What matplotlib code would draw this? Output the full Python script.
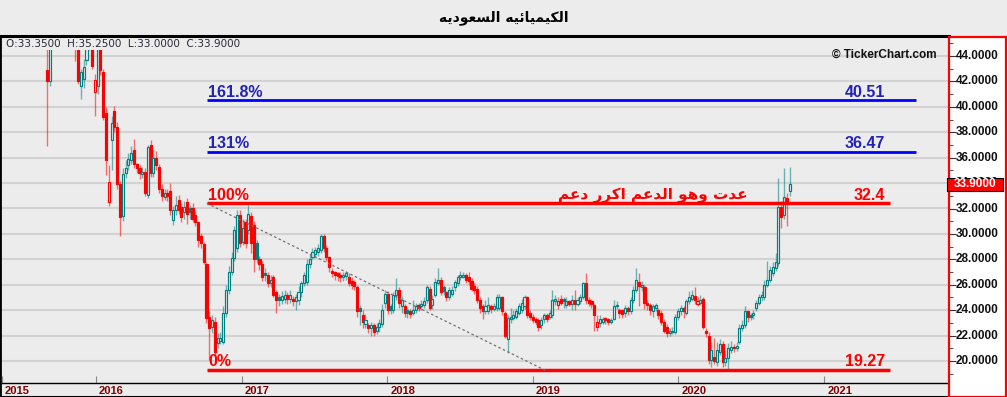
import numpy as np
import pandas as pd
import matplotlib
matplotlib.use('Agg')
import matplotlib.pyplot as plt
import matplotlib.dates as mdates
from matplotlib.patches import Rectangle
from matplotlib.transforms import ScaledTranslation

# weekly candles (last one = 2020-10-06)
opens = [
    42.9, 42.0, 46.5, 47.5, 48.2, 47.0, 47.8, 46.8, 47.2, 46.5,
    46.2, 44.6, 41.6, 42.2, 43.7, 44.8, 45.6, 41.2, 41.6, 44.8,
    42.7, 39.5, 32.5, 37.4, 39.7, 38.4, 33.9, 31.4, 34.8, 35.4,
    35.8, 36.6, 35.5, 35.2, 34.7, 34.9, 33.1, 37.0, 34.8, 36.0,
    35.3, 33.5, 32.9, 33.2, 33.4, 31.1, 31.9, 32.7, 32.1, 31.7,
    32.5, 32.0, 32.0, 31.5, 30.9, 29.8, 29.2, 27.6, 23.5, 22.7,
    23.1, 21.4, 21.6, 21.5, 23.8, 25.6, 27.0, 28.1, 28.9, 31.5,
    29.4, 30.9, 30.3, 31.4, 30.7, 29.3, 28.0, 27.6, 26.9, 26.8,
    26.1, 26.6, 25.4, 25.0, 24.8, 24.9, 25.2, 24.9, 24.9, 24.7,
    24.8, 25.4, 26.1, 26.2, 27.6, 28.2, 28.4, 28.6, 28.7, 29.8,
    28.9, 28.2, 27.1, 27.0, 26.9, 26.8, 26.6, 26.7, 26.6, 26.3,
    26.2, 25.8, 24.2, 23.6, 22.9, 22.8, 22.6, 22.8, 22.4, 22.7,
    22.9, 24.6, 25.3, 24.3, 24.0, 25.2, 25.6, 24.3, 24.3, 24.0,
    23.9, 23.8, 24.0, 24.4, 24.3, 24.4, 24.8, 25.7, 24.4, 25.2,
    26.1, 26.4, 25.8, 25.4, 25.0, 25.3, 25.8, 26.1, 26.6, 26.6,
    26.8, 26.6, 26.3, 25.9, 25.7, 24.8, 24.3, 23.9, 23.9, 24.3,
    24.1, 24.2, 24.2, 25.0, 23.8, 21.7, 23.3, 23.4, 23.5, 23.8,
    24.0, 24.3, 25.0, 23.8, 23.5, 23.3, 23.2, 22.8, 23.3, 23.6,
    23.5, 23.6, 24.7, 24.4, 24.9, 24.9, 24.4, 24.7, 24.5, 24.8,
    24.5, 24.7, 25.0, 26.1, 24.8, 24.7, 24.4, 22.7, 23.0, 23.1,
    23.4, 23.3, 23.1, 23.3, 24.3, 24.0, 24.0, 23.8, 24.2, 23.9,
    24.8, 25.6, 26.2, 25.8, 25.8, 24.6, 24.4, 23.9, 24.2, 24.0,
    23.8, 23.1, 22.7, 22.2, 22.3, 22.3, 23.5, 23.9, 24.2, 23.8,
    24.7, 24.9, 25.1, 24.5, 24.6, 24.9, 22.4, 22.0, 20.1, 20.3,
    19.9, 20.7, 21.3, 19.9, 20.2, 20.9, 21.1, 21.0, 21.5, 22.6,
    22.8, 23.9, 23.6, 23.6, 24.2, 24.6, 25.0, 25.0, 26.0, 26.4,
    26.9, 27.3, 27.7, 32.1, 31.5, 32.8, 33.35,
]
highs = [
    44.6, 47.0, 48.5, 49.0, 48.8, 48.5, 48.2, 47.8, 47.6, 47.5,
    46.5, 44.8, 43.0, 43.8, 45.5, 46.0, 45.8, 42.6, 45.5, 45.5,
    43.0, 40.0, 35.4, 39.3, 40.1, 38.8, 34.2, 35.2, 35.8, 36.4,
    36.9, 37.5, 35.6, 35.4, 35.3, 35.2, 37.0, 37.4, 36.6, 36.5,
    35.5, 33.9, 33.5, 33.5, 34.0, 32.2, 33.0, 33.1, 32.4, 32.6,
    32.8, 32.3, 32.4, 31.8, 31.0, 30.1, 29.4, 27.8, 23.9, 23.6,
    23.5, 22.2, 22.3, 24.3, 26.0, 27.5, 28.6, 30.6, 31.9, 31.9,
    31.2, 31.2, 32.3, 31.7, 31.0, 29.5, 28.3, 27.9, 27.3, 27.0,
    26.8, 26.8, 25.6, 25.3, 25.5, 25.6, 25.4, 25.6, 25.1, 25.3,
    25.9, 26.3, 27.0, 28.0, 28.4, 28.9, 29.0, 29.2, 30.0, 30.0,
    29.1, 28.3, 27.3, 27.1, 27.0, 27.0, 27.0, 27.1, 26.9, 26.6,
    26.4, 26.0, 24.4, 24.0, 23.7, 23.0, 23.1, 23.0, 23.0, 23.3,
    24.5, 25.6, 25.5, 24.5, 25.4, 26.5, 25.8, 25.1, 24.5, 24.2,
    24.1, 24.8, 24.6, 24.6, 24.8, 25.0, 26.0, 25.9, 25.2, 26.5,
    27.3, 26.6, 26.0, 25.5, 25.8, 25.9, 26.4, 26.8, 27.1, 27.0,
    26.9, 27.0, 26.5, 26.1, 25.9, 25.0, 24.5, 24.8, 25.0, 24.5,
    24.6, 25.3, 25.3, 25.1, 23.9, 23.6, 24.2, 24.0, 24.2, 24.6,
    24.9, 25.2, 25.1, 24.0, 23.7, 23.5, 23.4, 23.5, 23.8, 23.8,
    24.0, 25.6, 25.2, 25.0, 25.2, 25.0, 25.0, 24.8, 25.2, 25.6,
    25.0, 25.3, 26.2, 26.9, 25.0, 24.9, 24.5, 23.6, 23.6, 23.5,
    23.5, 23.4, 23.4, 24.8, 24.7, 24.2, 24.1, 24.4, 24.3, 25.0,
    25.9, 27.3, 26.9, 26.3, 26.0, 24.8, 24.6, 24.5, 24.6, 24.2,
    24.0, 23.3, 22.9, 22.6, 22.7, 23.7, 24.2, 24.4, 24.3, 24.9,
    25.5, 25.6, 25.8, 25.0, 25.2, 25.0, 22.6, 22.3, 21.5, 21.8,
    21.5, 21.7, 21.6, 20.9, 21.4, 21.6, 21.3, 21.5, 22.9, 23.2,
    24.3, 24.0, 23.8, 24.0, 24.8, 25.3, 25.5, 26.4, 27.9, 27.5,
    27.8, 28.5, 34.4, 32.6, 35.2, 33.2, 35.25,
]
lows = [
    36.9, 41.6, 46.0, 46.8, 46.2, 46.3, 46.0, 46.0, 45.8, 45.6,
    43.6, 41.8, 40.6, 41.5, 43.3, 44.5, 43.0, 39.3, 41.0, 42.5,
    39.0, 34.6, 32.2, 35.0, 38.0, 33.5, 29.8, 31.0, 34.4, 35.0,
    35.5, 35.2, 34.8, 34.3, 34.4, 33.0, 32.8, 34.5, 34.5, 35.0,
    33.2, 32.6, 32.7, 32.6, 31.5, 30.7, 31.5, 31.6, 30.9, 31.2,
    30.8, 31.2, 30.9, 30.6, 29.0, 28.9, 27.6, 23.0, 20.1, 22.2,
    20.4, 21.0, 21.3, 21.3, 23.5, 25.3, 26.8, 27.9, 28.6, 29.0,
    29.1, 28.9, 30.0, 28.5, 27.0, 27.7, 27.2, 26.3, 26.3, 25.8,
    25.8, 25.0, 23.8, 24.3, 24.5, 24.6, 24.5, 24.6, 24.3, 24.0,
    24.4, 25.0, 25.9, 26.0, 27.3, 28.0, 28.2, 28.3, 28.5, 28.6,
    27.9, 27.0, 26.6, 26.4, 26.3, 26.2, 26.3, 26.4, 25.9, 25.7,
    25.6, 23.5, 22.8, 22.6, 22.6, 22.2, 22.0, 22.0, 22.1, 22.3,
    22.7, 24.2, 23.7, 23.7, 23.8, 24.8, 24.2, 23.8, 23.5, 23.4,
    23.4, 23.6, 23.8, 23.9, 24.0, 24.2, 24.6, 24.0, 24.1, 25.0,
    26.0, 25.2, 25.2, 24.7, 24.8, 25.1, 25.5, 25.9, 26.4, 26.5,
    26.1, 26.0, 25.5, 25.3, 24.6, 23.8, 23.3, 23.7, 23.7, 23.8,
    23.9, 23.9, 24.0, 23.6, 21.8, 20.6, 23.0, 23.2, 23.3, 23.6,
    23.8, 24.1, 23.4, 23.2, 23.0, 22.8, 22.4, 22.5, 23.0, 23.1,
    23.3, 23.4, 24.4, 24.1, 24.4, 24.2, 24.2, 24.3, 24.0, 24.0,
    24.3, 24.5, 24.9, 24.5, 24.3, 24.2, 22.4, 22.4, 22.7, 22.9,
    22.9, 22.8, 22.9, 23.2, 24.1, 23.4, 23.4, 23.5, 23.6, 23.7,
    24.6, 25.4, 24.3, 25.5, 24.1, 24.0, 23.6, 23.5, 23.9, 23.3,
    22.8, 22.2, 21.9, 22.0, 22.1, 22.1, 23.2, 23.6, 23.4, 23.6,
    24.5, 24.7, 24.5, 24.3, 24.4, 22.5, 21.9, 19.8, 19.5, 19.8,
    19.6, 20.5, 19.5, 19.6, 19.4, 20.6, 20.7, 20.8, 21.3, 22.4,
    22.6, 23.1, 23.2, 23.3, 23.9, 24.4, 24.7, 24.8, 25.8, 26.2,
    26.7, 27.1, 27.5, 30.5, 31.2, 30.6, 33.0,
]
closes = [
    42.0, 46.5, 47.5, 48.2, 47.0, 47.8, 46.8, 47.2, 46.5, 46.2,
    44.6, 42.0, 42.7, 43.1, 44.8, 45.6, 43.2, 42.1, 44.8, 42.9,
    39.2, 35.8, 34.1, 38.7, 38.4, 33.9, 31.3, 34.7, 35.2, 35.9,
    36.4, 35.5, 35.2, 34.8, 34.9, 33.2, 36.8, 34.8, 36.0, 35.4,
    33.5, 33.0, 33.2, 33.0, 31.9, 31.9, 32.3, 31.9, 31.3, 32.1,
    31.6, 31.7, 31.2, 30.9, 29.5, 29.3, 27.8, 23.4, 22.6, 23.2,
    20.7, 21.8, 21.8, 23.8, 25.6, 27.0, 28.1, 30.3, 31.5, 29.3,
    30.5, 29.3, 31.6, 29.3, 28.0, 28.0, 27.6, 26.6, 26.8, 26.1,
    26.4, 25.2, 24.8, 24.8, 25.1, 25.2, 24.9, 25.2, 24.7, 25.0,
    25.4, 26.1, 26.8, 27.6, 28.0, 28.6, 28.7, 28.9, 29.8, 28.9,
    28.2, 27.4, 26.9, 26.8, 26.7, 26.6, 26.8, 26.9, 26.1, 26.0,
    25.9, 23.9, 23.9, 23.1, 23.2, 22.6, 22.8, 22.3, 22.7, 23.0,
    24.0, 25.3, 24.0, 24.0, 25.2, 25.6, 24.6, 24.8, 23.8, 23.8,
    23.7, 24.0, 24.3, 24.2, 24.5, 24.7, 25.8, 24.2, 24.9, 26.2,
    26.4, 25.4, 25.5, 25.0, 25.6, 25.6, 26.2, 26.6, 26.8, 26.8,
    26.4, 26.3, 25.7, 25.6, 24.8, 24.2, 23.9, 24.3, 24.4, 24.1,
    24.3, 25.0, 25.0, 23.9, 22.0, 23.4, 23.5, 23.6, 23.9, 24.3,
    24.6, 25.0, 23.6, 23.5, 23.2, 23.1, 22.7, 23.2, 23.6, 23.3,
    23.8, 24.8, 24.9, 24.7, 24.6, 24.7, 24.7, 24.5, 24.8, 24.5,
    24.8, 25.0, 26.1, 24.8, 24.6, 24.5, 23.6, 23.1, 23.3, 23.3,
    23.2, 23.1, 23.2, 24.3, 24.4, 23.8, 23.7, 24.2, 23.9, 24.8,
    25.6, 26.4, 25.9, 26.0, 24.6, 24.4, 24.0, 24.3, 24.4, 23.6,
    23.1, 22.4, 22.2, 22.4, 22.4, 23.5, 23.9, 24.2, 23.9, 24.7,
    25.0, 25.2, 24.8, 24.7, 24.8, 22.7, 22.2, 20.1, 20.9, 20.0,
    20.9, 21.3, 19.9, 20.2, 21.0, 21.1, 21.0, 21.2, 22.6, 22.8,
    23.9, 23.5, 23.5, 23.8, 24.6, 25.0, 25.2, 26.0, 26.4, 27.2,
    27.4, 27.8, 32.1, 31.3, 32.9, 32.4, 33.9,
]

fib_names = ['161.8%', '131%', '100%', '0%']
fib_levels = [40.51, 36.47, 32.4, 19.27]
fib_values = ['40.51', '36.47', '32.4', '19.27']
fib_colors = ['#0000ff', '#0000ff', '#ff0000', '#ff0000']
fib_text_colors = ['#2323b8', '#2323b8', '#ff0000', '#ff0000']
fib_ends = ['2021-08-18', '2021-08-18', '2021-06-15', '2021-06-15']

years = ['2015', '2016', '2017', '2018', '2019', '2020', '2021']
price_ticks = list(range(20, 45, 2))
last_price = 33.9

title = 'الكيميائيه السعوديه'
note = 'عدت وهو الدعم اكرر دعم'

BG = '#ececec'
TEAL = '#008080'
RED = '#ff0000'

# minimal arabic shaping (isolated, final, initial, medial) + RTL
FORMS = {
    '\u0627': ('\uFE8D', '\uFE8E', None, None),
    '\u0644': ('\uFEDD', '\uFEDE', '\uFEDF', '\uFEE0'),
    '\u0643': ('\uFED9', '\uFEDA', '\uFEDB', '\uFEDC'),
    '\u064A': ('\uFEF1', '\uFEF2', '\uFEF3', '\uFEF4'),
    '\u0645': ('\uFEE1', '\uFEE2', '\uFEE3', '\uFEE4'),
    '\u0626': ('\uFE89', '\uFE8A', '\uFE8B', '\uFE8C'),
    '\u0647': ('\uFEE9', '\uFEEA', '\uFEEB', '\uFEEC'),
    '\u0633': ('\uFEB1', '\uFEB2', '\uFEB3', '\uFEB4'),
    '\u0639': ('\uFEC9', '\uFECA', '\uFECB', '\uFECC'),
    '\u0648': ('\uFEED', '\uFEEE', None, None),
    '\u062F': ('\uFEA9', '\uFEAA', None, None),
    '\u062A': ('\uFE95', '\uFE96', '\uFE97', '\uFE98'),
    '\u0631': ('\uFEAD', '\uFEAE', None, None),
}


def shape(text):
    out = []
    for i, ch in enumerate(text):
        f = FORMS.get(ch)
        if f is None:
            out.append(ch)
            continue
        prev = text[i - 1] if i > 0 else ''
        nxt = text[i + 1] if i + 1 < len(text) else ''
        jp = prev in FORMS and FORMS[prev][2] is not None
        jn = f[2] is not None and nxt in FORMS
        if jp and jn:
            out.append(f[3])
        elif jp:
            out.append(f[1])
        elif jn:
            out.append(f[2])
        else:
            out.append(f[0])
    return ''.join(reversed(out))


def dnum(s):
    return mdates.date2num(pd.Timestamp(s))


o = np.array(opens)
h = np.array(highs)
l = np.array(lows)
c = np.array(closes)
dates = pd.date_range(end='2020-10-06', periods=len(c), freq='7D')
xd = mdates.date2num(dates)

W, H = 1007, 397
fig = plt.figure(figsize=(W / 100, H / 100), dpi=100, facecolor=BG)

# frame behind chart (borders)
frame = fig.add_axes([0, 0, 949 / W, 361 / H])
frame.set_facecolor(BG)
frame.set_xticks([])
frame.set_yticks([])
frame.spines['right'].set_visible(False)
frame.spines['top'].set_linewidth(2.2)
frame.spines['left'].set_linewidth(2.0)
frame.spines['bottom'].set_linewidth(1.5)

ax = fig.add_axes([2 / W, 14 / H, 947 / W, 333 / H])
ax.patch.set_alpha(0)
x0, x1 = dnum('2015-05-10'), dnum('2021-11-10')
ax.set_xlim(x0, x1)
ax.set_ylim(18.27, 44.47)
ax.set_yticks(price_ticks)
ax.tick_params(axis='y', left=False, labelleft=False)
ax.yaxis.grid(True, color='#d2d2d2', lw=1.5)
ax.set_axisbelow(True)
for s in ['top', 'left', 'right']:
    ax.spines[s].set_visible(False)
ax.spines['bottom'].set_linewidth(1.0)

# candles
prev = np.r_[o[0], c[:-1]]
col = np.where(c >= prev, TEAL, RED)
ax.vlines(xd, l, h, colors=col, lw=1.0, alpha=0.55, zorder=2)
face = np.where(c >= o, BG, col)
ax.bar(xd, np.maximum(np.abs(c - o), 0.1), width=5.2, bottom=np.minimum(o, c),
       color=face, edgecolor=col, linewidth=0.85, zorder=3)

# fibonacci levels
fs = dnum('2016-10-05')
for name, lev, val, lc, tc, end in zip(fib_names, fib_levels, fib_values,
                                       fib_colors, fib_text_colors, fib_ends):
    lw = 2.5 if lc == RED else 2.0
    ax.hlines(lev, fs, dnum(end), colors=lc, lw=lw, zorder=4)
    ax.text(dnum('2016-10-09'), lev + 0.3, name, color=tc, fontsize=11.5,
            family='Liberation Sans', weight='bold', va='baseline', zorder=5)
    ax.text(dnum('2021-06-03'), lev + 0.3, val, color=tc, fontsize=11.5,
            family='Liberation Sans', weight='bold', va='baseline', ha='right', zorder=5)

# trend line
ax.plot([dnum('2016-10-05'), dnum('2019-02-01')], [32.4, 19.27],
        color='#707070', lw=0.9, ls=(0, (2, 2)), zorder=4)

ax.text(dnum('2020-06-23'), 32.75, shape(note), color=RED, fontsize=11,
        family='DejaVu Sans', weight='bold', ha='right', va='baseline', zorder=5)

ax.text(0.987, 0.985, '\u00a9 TickerChart.com', transform=ax.transAxes, ha='right',
        va='center', fontsize=8.5, weight='bold', family='Liberation Sans', color='#111111')

# year axis
ax.set_xticks([x0] + [dnum(y + '-01-01') for y in years[1:]])
ax.set_xticklabels(years)
ax.tick_params(axis='x', direction='in', length=5, color='#888888',
               labelcolor='#800000', labelsize=8, pad=2)
for lbl in ax.get_xticklabels():
    lbl.set_ha('left')
    lbl.set_family('Liberation Sans')
    lbl.set_weight('bold')
    lbl.set_transform(lbl.get_transform() + ScaledTranslation(3 / 100, 0, fig.dpi_scale_trans))

# price axis panel
ax2 = fig.add_axes([949 / W, 0, 57 / W, 360 / H])
ax2.set_facecolor('white')
ax2.set_xticks([])
ax2.set_ylim(17.17, 45.495)
ax2.set_yticks(price_ticks)
ax2.set_yticks(range(19, 46, 2), minor=True)
ax2.tick_params(axis='y', which='major', direction='in', length=5, color='#333333',
                labelleft=False)
ax2.tick_params(axis='y', which='minor', direction='in', length=3, color='#333333')
for s in ax2.spines.values():
    s.set_color(RED)
    s.set_linewidth(1.6)
for t in price_ticks:
    ax2.text(0.12, t, f'{t:.4f}', transform=ax2.get_yaxis_transform(), va='center',
             ha='left', fontsize=8.5, weight='bold', family='Liberation Sans', color='#111111')
ax2.add_patch(Rectangle((-0.04, last_price - 0.52), 0.98, 1.04,
                        transform=ax2.get_yaxis_transform(), fc=RED, ec='black',
                        lw=0.8, clip_on=False, zorder=5))
ax2.text(0.46, last_price, f'{last_price:.4f}', transform=ax2.get_yaxis_transform(),
         ha='center', va='center', color='white', fontsize=8.5, weight='bold',
         family='Liberation Sans', zorder=6)

# header texts
fig.text(0.5, 1 - 18 / H, shape(title), ha='center', va='center', fontsize=10,
         weight='bold', family='DejaVu Sans')
fig.text(6 / W, 1 - 44 / H, 'O:33.3500  H:35.2500  L:33.0000  C:33.9000',
         ha='left', va='center', fontsize=7.5, family='DejaVu Sans', color='#2a2a3a')

fig.savefig('out.png', dpi=100, facecolor=BG)
